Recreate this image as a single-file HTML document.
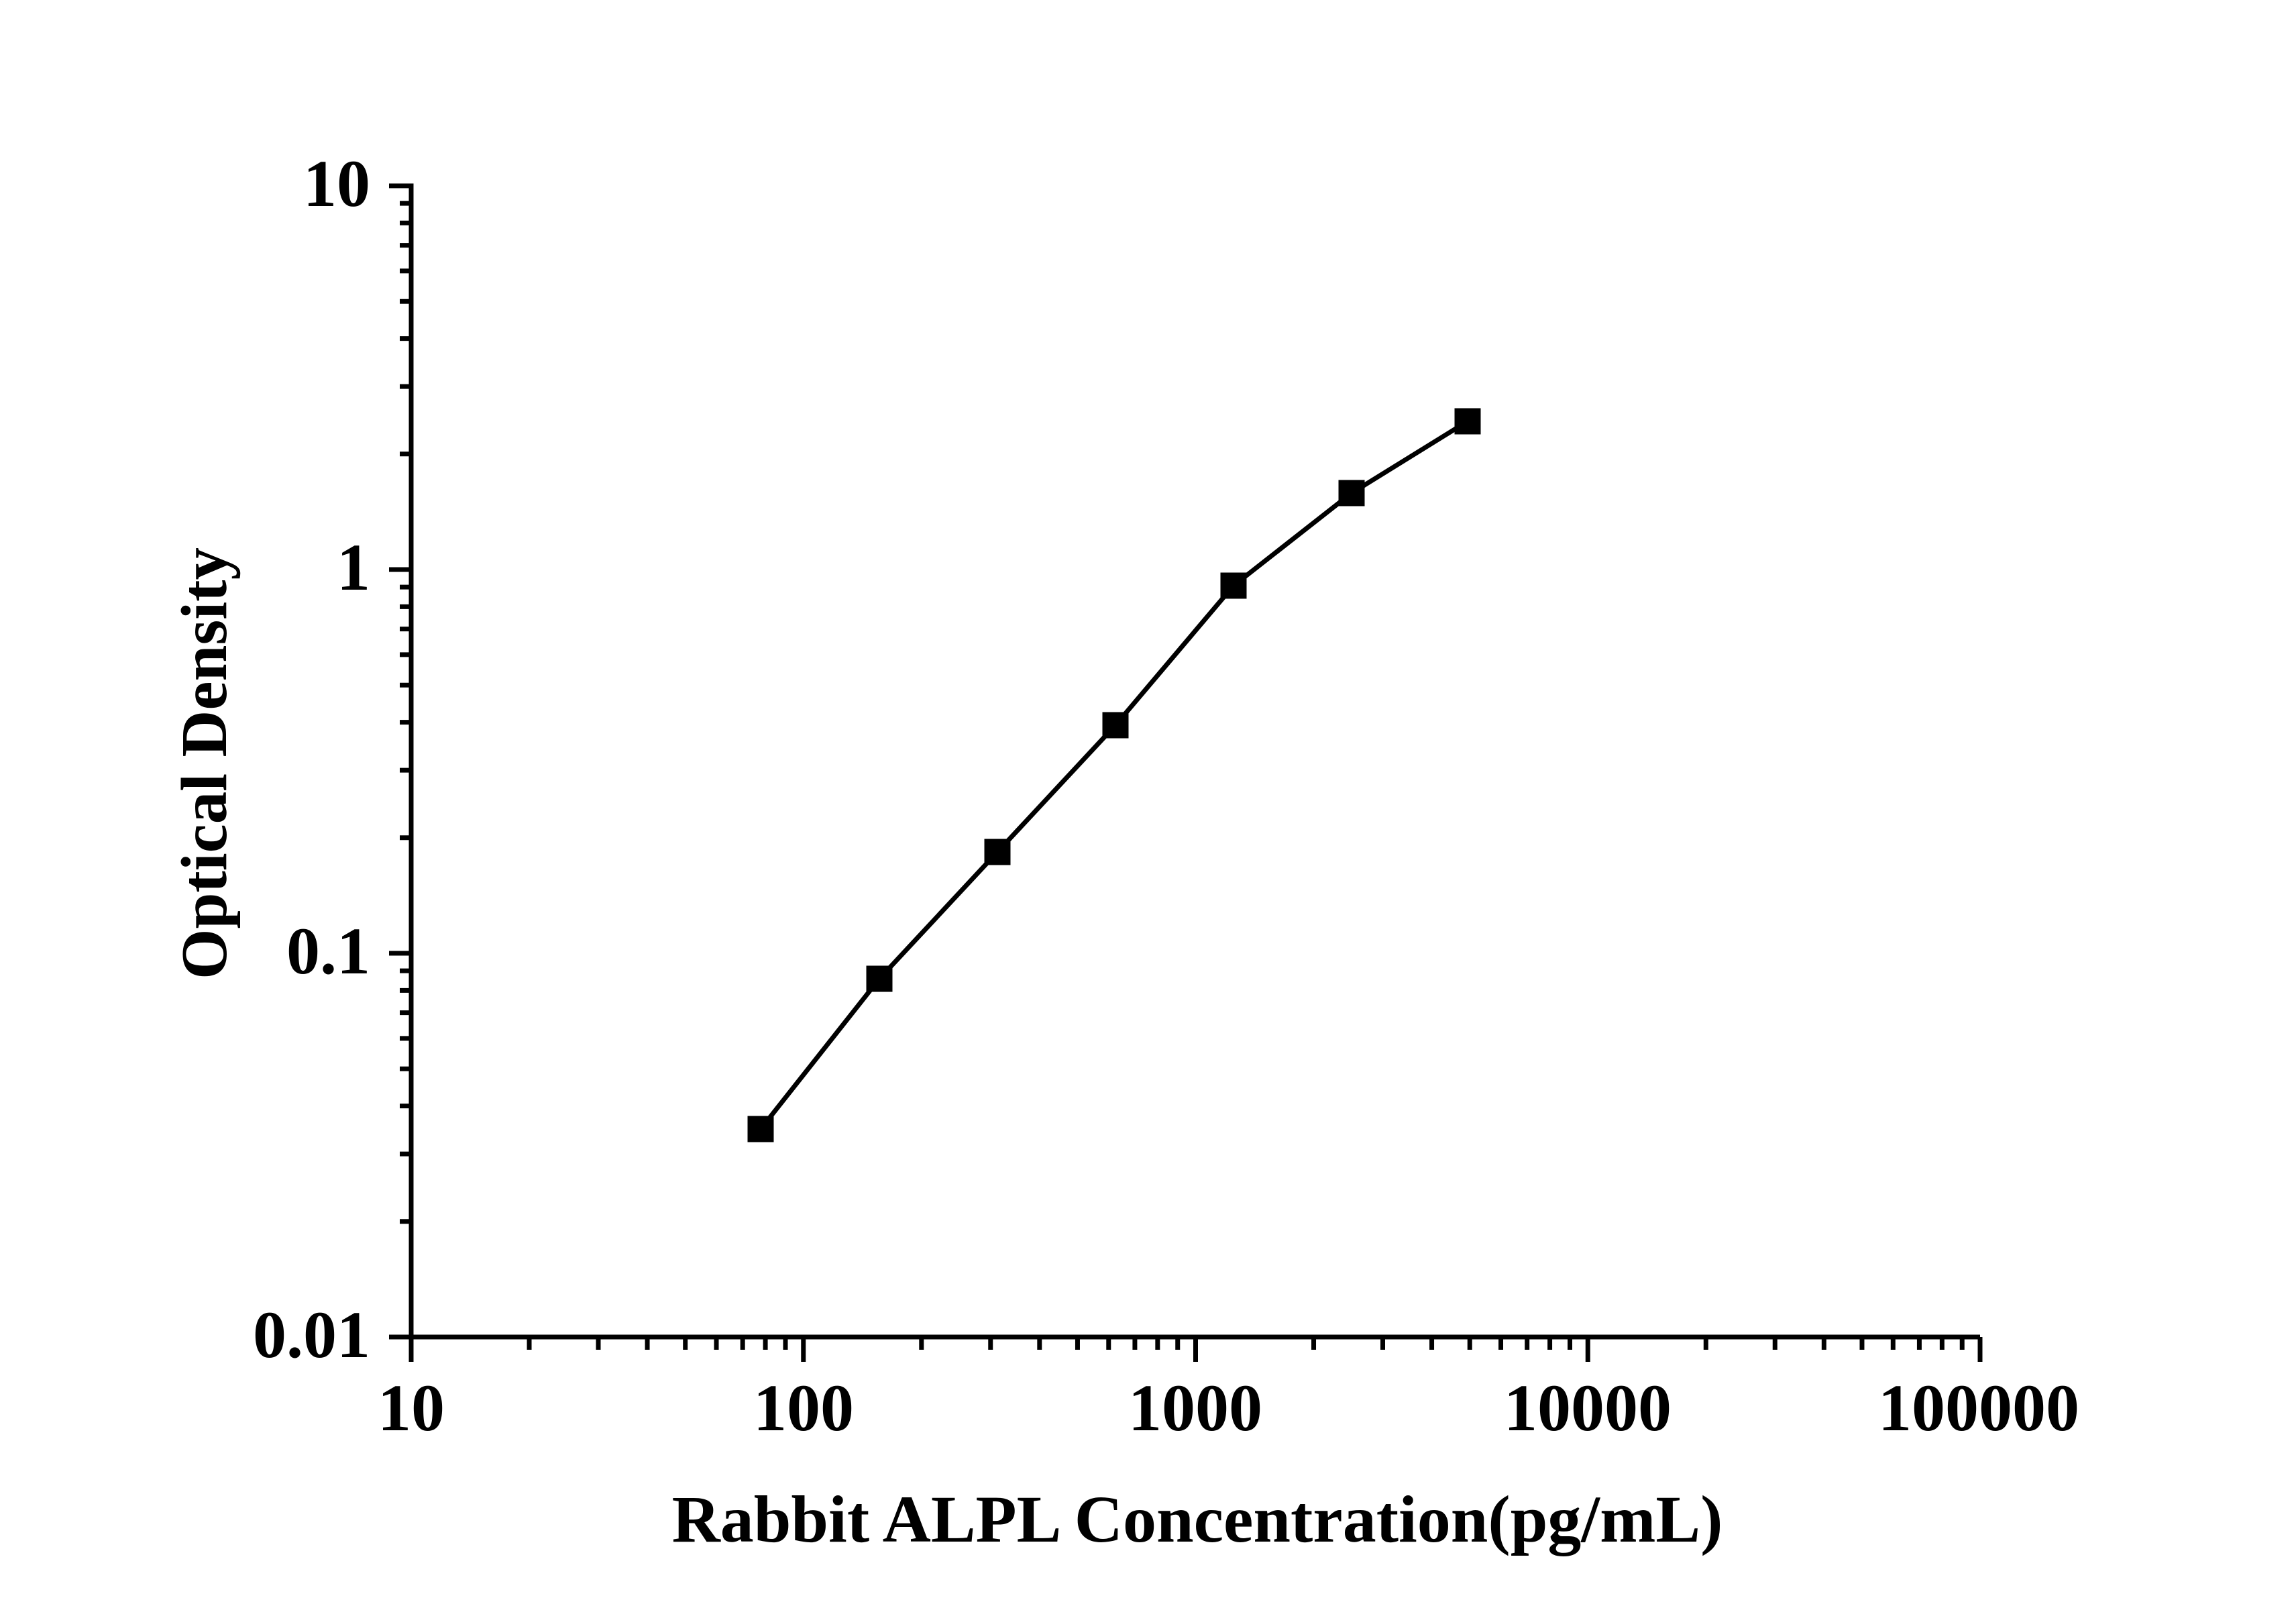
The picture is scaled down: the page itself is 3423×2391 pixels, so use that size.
<!DOCTYPE html>
<html><head><meta charset="utf-8"><style>
html,body{margin:0;padding:0;background:#fff;}
svg{display:block;}
text{font-family:"Liberation Serif",serif;font-weight:bold;fill:#000;}
</style></head><body>
<svg width="3423" height="2391" viewBox="0 0 3423 2391" xmlns="http://www.w3.org/2000/svg">
<g stroke="#000" stroke-width="7" fill="none">
<line x1="613" y1="273.5" x2="613" y2="1996.5"/>
<line x1="609.5" y1="1993" x2="2952" y2="1993"/>
</g>
<g id="ticks" stroke="#000" stroke-width="7"></g>
<polyline fill="none" stroke="#000" stroke-width="7" stroke-linejoin="round" points="1134,1683 1311,1459 1487,1270 1663,1081 1839,873 2015,735 2188,628"/>
<g fill="#000">
<rect x="1114.5" y="1663.5" width="39" height="39"/>
<rect x="1291.5" y="1439.5" width="39" height="39"/>
<rect x="1467.5" y="1250.5" width="39" height="39"/>
<rect x="1643.5" y="1061.5" width="39" height="39"/>
<rect x="1819.5" y="853.5" width="39" height="39"/>
<rect x="1995.5" y="715.5" width="39" height="39"/>
<rect x="2168.5" y="608.5" width="39" height="39"/>
</g>
<g font-size="100" text-anchor="end">
<text x="552" y="307">10</text>
<text x="552" y="879">1</text>
<text x="552" y="1451">0.1</text>
<text x="552" y="2023">0.01</text>
</g>
<g font-size="100" text-anchor="middle">
<text x="613" y="2132">10</text>
<text x="1198" y="2132">100</text>
<text x="1782" y="2132">1000</text>
<text x="2367" y="2132">10000</text>
<text x="2950" y="2132">100000</text>
</g>
<text x="1785" y="2298" font-size="100" text-anchor="middle">Rabbit ALPL Concentration(pg/mL)</text>
<text transform="translate(337,1138) rotate(-90)" font-size="97" text-anchor="middle">Optical Density</text>
</svg>
<script>
(function(){
var g=document.getElementById('ticks'),s='';
var x0=613,dx=584.75,y0=1993,dy=572;
for(var d=0;d<=4;d++){
 var x=x0+d*dx; s+='<line x1="'+x+'" y1="'+y0+'" x2="'+x+'" y2="'+(y0+37)+'"/>';
 if(d<4)for(var k=2;k<=9;k++){var xm=x+Math.log10(k)*dx;s+='<line x1="'+xm+'" y1="'+y0+'" x2="'+xm+'" y2="'+(y0+19)+'"/>';}
}
for(var d=0;d<=3;d++){
 var y=y0-d*dy; s+='<line x1="613" y1="'+y+'" x2="580" y2="'+y+'"/>';
 if(d<3)for(var k=2;k<=9;k++){var ym=y-Math.log10(k)*dy;s+='<line x1="613" y1="'+ym+'" x2="596" y2="'+ym+'"/>';}
}
g.innerHTML=s;
})();
</script>
</body></html>
